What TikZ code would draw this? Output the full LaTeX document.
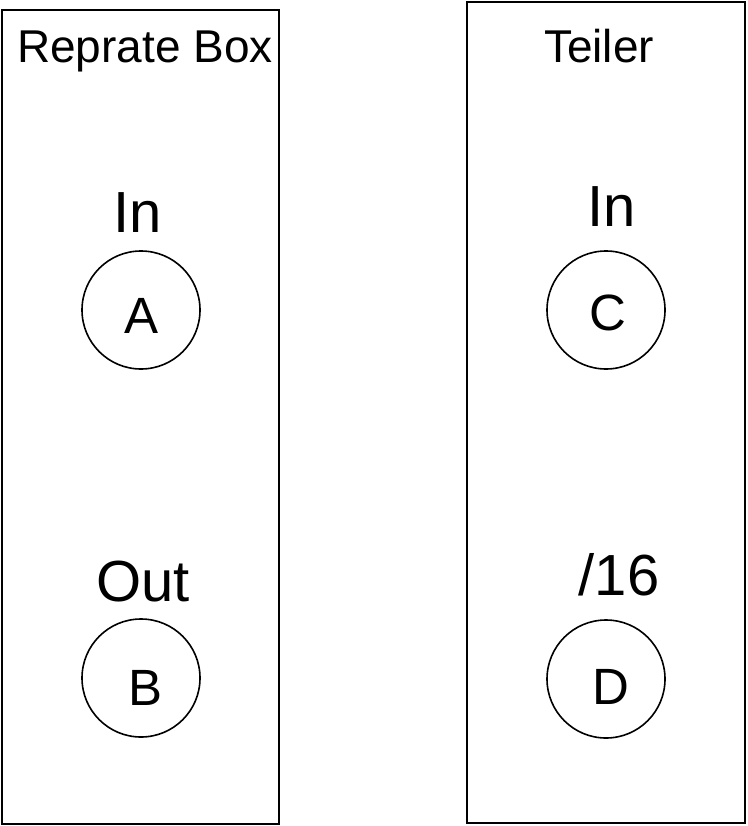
\documentclass[tikz,border=0pt]{standalone}
\usepackage{fontspec}
\setmainfont{Liberation Sans}
\begin{document}
\begin{tikzpicture}[x=1pt,y=-1pt,
  panel/.style={draw,line width=2pt},
  port/.style={draw,circle,line width=1.6pt,minimum size=118pt,inner sep=0pt},
  title/.style={anchor=base,inner sep=0pt,font=\fontsize{46}{48}\selectfont},
  lbl/.style={anchor=base,inner sep=0pt,font=\fontsize{58}{60}\selectfont},
  letter/.style={anchor=base,inner sep=0pt,font=\fontsize{51}{53}\selectfont}]
\useasboundingbox (0,0) rectangle (747,826);
\draw[panel] (1.5,10) rectangle (279,824);
\draw[panel] (467,2) rectangle (745,823);
\node[port] (A) at (141,310) {};
\node[port] (B) at (141,678) {};
\node[port] (C) at (606,310) {};
\node[port] (D) at (606,679) {};
\node[title] (t1) at (145,63) {Reprate Box};
\node[title] (t2) at (599,63) {Teiler};
\node[lbl] (inA) at (138,233) {In};
\node[lbl] (outB) at (143,601) {Out};
\node[lbl] (inC) at (612,226) {In};
\node[lbl] (div) at (619,595) {/16};
\node[letter] (la) at (142,333) {A};
\node[letter] (lb) at (146,705) {B};
\node[letter] (lc) at (608,330) {C};
\node[letter] (ld) at (611,704) {D};
\end{tikzpicture}
\end{document}
